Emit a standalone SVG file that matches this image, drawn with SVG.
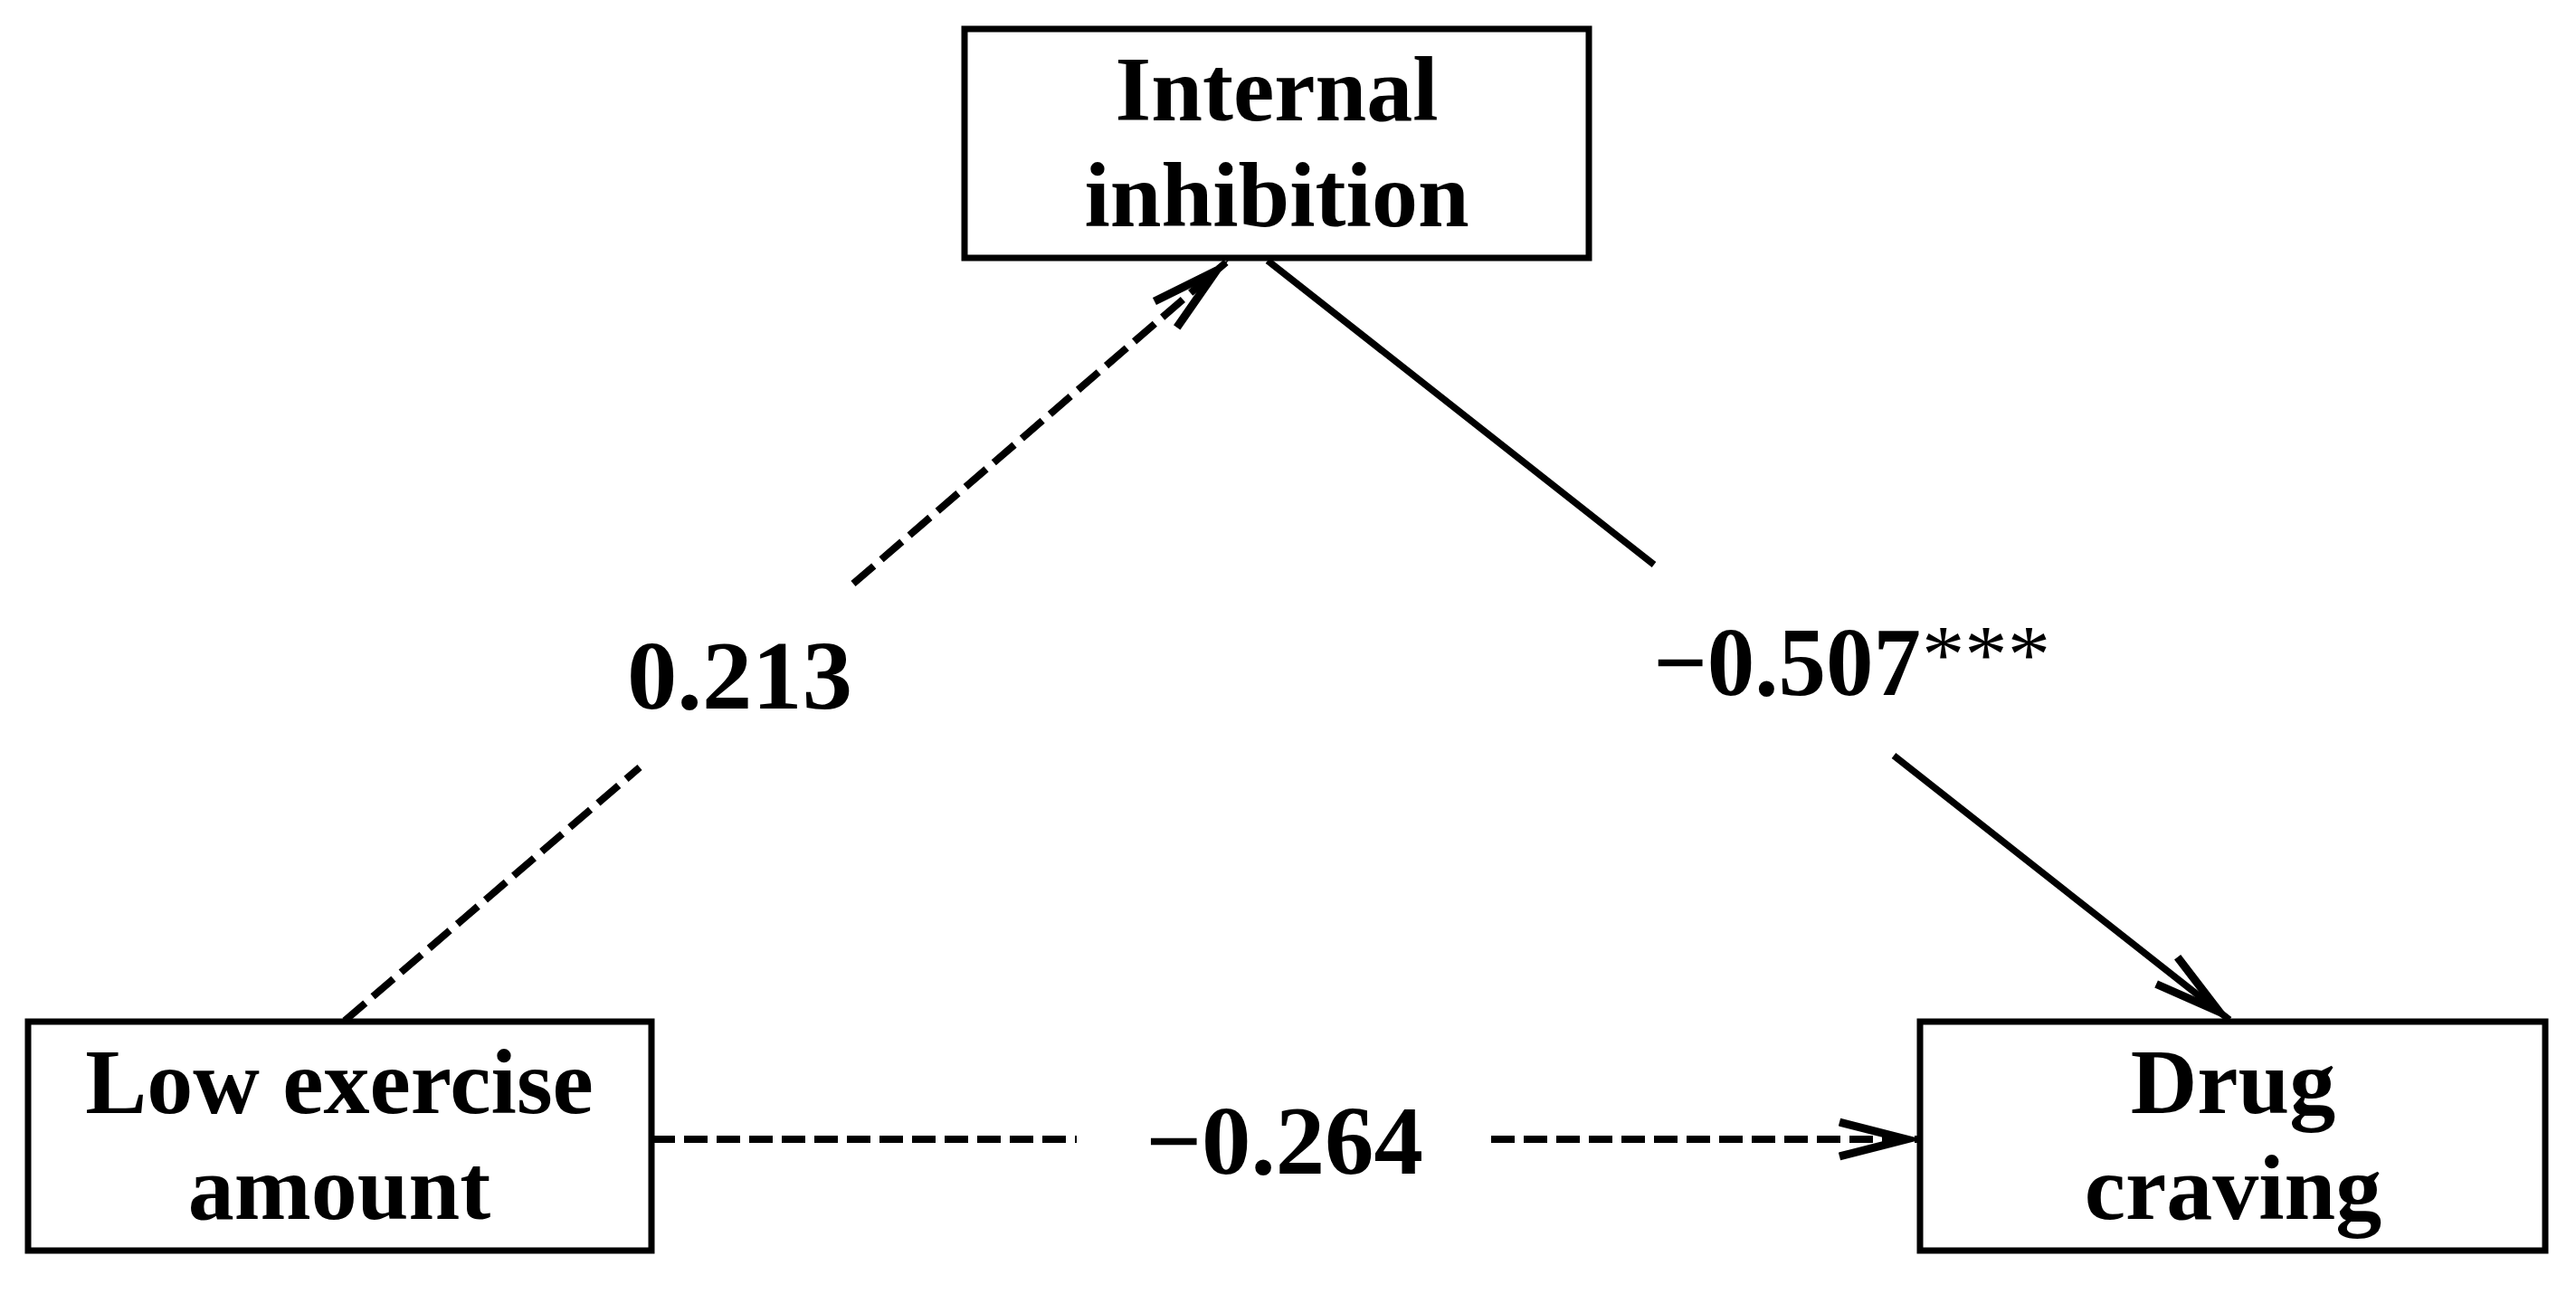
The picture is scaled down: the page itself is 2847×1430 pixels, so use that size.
<svg xmlns="http://www.w3.org/2000/svg" width="2847" height="1430" viewBox="0 0 2847 1430">
<style>
.box{fill:#fff;stroke:#000;stroke-width:7}
.nt{font-family:"Liberation Serif","Times New Roman",serif;font-weight:bold;font-size:102px;text-anchor:middle;fill:#000}
.lbl{font-family:"Liberation Serif","Times New Roman",serif;font-weight:bold;font-size:107px;fill:#000}
.ast{font-family:"Liberation Serif","Times New Roman",serif;font-weight:normal;font-size:92px;fill:#000}
.ln{fill:none;stroke:#000;stroke-width:7.5}
.dd{stroke-dasharray:30 11;stroke-width:8}
.dh{stroke-dasharray:26 10;stroke-width:8}
</style>
<defs>
<marker id="arr" markerUnits="userSpaceOnUse" markerWidth="140" markerHeight="80" viewBox="-110 -40 140 80" refX="0" refY="0" orient="auto" overflow="visible">
<path d="M -88,-19 L -14,0 L -88,19" fill="none" stroke="#000" stroke-width="9" stroke-linejoin="miter" stroke-miterlimit="10"/>
</marker>
</defs>
<rect width="2847" height="1430" fill="#fff"/>
<g id="connectors">
<line class="ln dd" x1="381" y1="1128" x2="707" y2="848"/>
<line class="ln dd" x1="943" y1="645" x2="1355" y2="290" marker-end="url(#arr)"/>
<line class="ln" x1="1401" y1="288" x2="1828" y2="624"/>
<line class="ln" x1="2093" y1="835" x2="2464" y2="1127" marker-end="url(#arr)"/>
<line class="ln dh" x1="720" y1="1259" x2="1190" y2="1259"/>
<line class="ln dh" x1="1648" y1="1259" x2="2121" y2="1259" marker-end="url(#arr)"/>
<text class="lbl" x="693" y="783" textLength="249" lengthAdjust="spacingAndGlyphs">0.213</text>
<text class="lbl" x="1827" y="768" textLength="296" lengthAdjust="spacingAndGlyphs">−0.507</text>
<text class="ast" x="2124" y="754" textLength="142" lengthAdjust="spacingAndGlyphs">***</text>
<text class="lbl" x="1266" y="1297" textLength="307" lengthAdjust="spacingAndGlyphs">−0.264</text>
</g>
<g id="internal-inhibition">
<rect class="box" x="1066" y="32" width="690" height="253"/>
<text class="nt" x="1411" y="133">Internal</text>
<text class="nt" x="1411" y="250">inhibition</text>
</g>
<g id="low-exercise-amount">
<rect class="box" x="31" y="1129" width="689" height="253"/>
<text class="nt" x="375" y="1230">Low exercise</text>
<text class="nt" x="375" y="1347">amount</text>
</g>
<g id="drug-craving">
<rect class="box" x="2122" y="1129" width="691" height="253"/>
<text class="nt" x="2468" y="1230">Drug</text>
<text class="nt" x="2468" y="1347">craving</text>
</g>
</svg>
